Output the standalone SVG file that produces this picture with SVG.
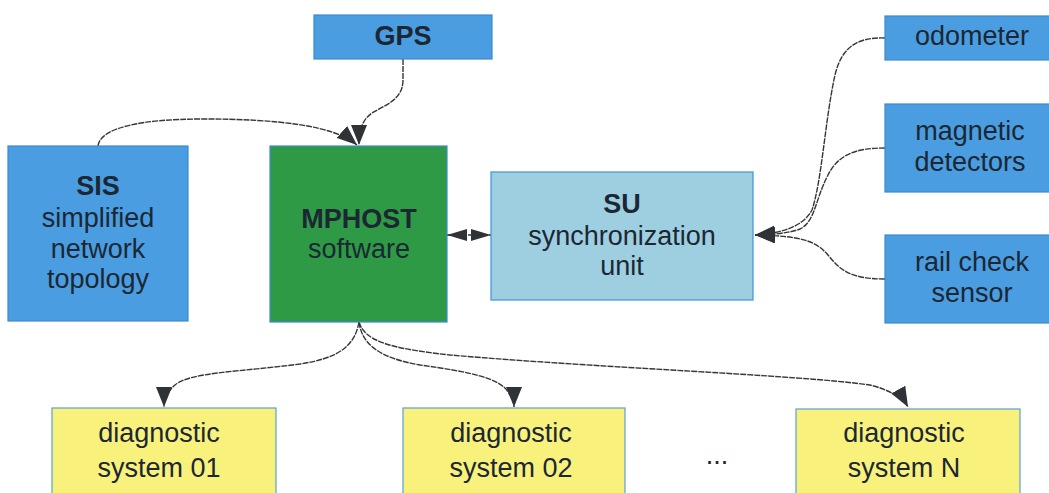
<svg xmlns="http://www.w3.org/2000/svg" width="1049" height="493" viewBox="0 0 1049 493">
  <style>
    .box { stroke-width: 1.2; }
    .blue { fill: #4a9de0; stroke: #3b8ad0; }
    .green { fill: #2e9a46; stroke: #3b8ad0; }
    .light { fill: #9dcfe1; stroke: #3f92d6; }
    .yellow { fill: #f8f27c; stroke: #5a9fd8; }
    text { font-family: "Liberation Sans", Arial, sans-serif; font-size: 27px; fill: #1c2733; text-anchor: middle; }
    .b { font-weight: bold; }
    .conn path, .conn line { fill: none; stroke: #33363a; stroke-width: 1.4; stroke-dasharray: 6 1; }
  </style>
  <defs>
    <marker id="arrow" viewBox="0 0 20 16" refX="20" refY="8" markerWidth="20" markerHeight="16" markerUnits="userSpaceOnUse" orient="auto-start-reverse">
      <path d="M0,0 L20,8 L0,16 Z" fill="#2f3236"/>
    </marker>
    <marker id="arrowS" viewBox="0 0 20 12" refX="20" refY="6" markerWidth="20" markerHeight="12" markerUnits="userSpaceOnUse" orient="auto-start-reverse">
      <path d="M0,0 L20,6 L0,12 Z" fill="#2f3236"/>
    </marker>
  </defs>

  <rect width="1049" height="493" fill="#ffffff"/>

  <!-- connectors -->
  <g id="connectors" class="conn">
    <path d="M98,146 C100,128 140,119 203,119 C280,119 335,126 357,145" marker-end="url(#arrow)"/>
    <path d="M403,59 L403,80 C403,100 385,105 372,113 C362,120 359,130 359,145" marker-end="url(#arrow)"/>
    <line x1="447" y1="235" x2="491" y2="235" marker-start="url(#arrowS)" marker-end="url(#arrowS)"/>
    <path d="M885,38 C860,37 842,45 835,75 C825,120 822,180 812,210 C802,228 780,233 755,235" marker-end="url(#arrow)"/>
    <path d="M885,148 C855,148 838,155 828,175 C815,200 815,222 800,229 C790,233 770,235 755,235" marker-end="url(#arrow)"/>
    <path d="M885,279 C850,279 840,270 828,255 C815,240 800,236 755,235" marker-end="url(#arrow)"/>
    <path d="M359,322 C355,345 340,358 300,364 C240,372 190,372 175,385 C167,392 164,398 164,407" marker-end="url(#arrow)"/>
    <path d="M359,322 C362,345 380,358 420,365 C470,372 500,378 508,392 C512,398 514,402 514,407" marker-end="url(#arrow)"/>
    <path d="M359,322 C365,340 385,348 450,355 C600,368 800,375 870,385 C890,390 903,398 908,407" marker-end="url(#arrow)"/>
  </g>

  <g id="gps">
    <rect class="box blue" x="314" y="15" width="178" height="44"/>
    <text class="b" x="403" y="45">GPS</text>
  </g>

  <g id="sis">
    <rect class="box blue" x="8" y="146" width="180" height="175"/>
    <text class="b" x="98" y="195">SIS</text>
    <text x="98" y="227">simplified</text>
    <text x="98" y="258">network</text>
    <text x="98" y="288">topology</text>
  </g>

  <g id="mphost">
    <rect class="box green" x="270" y="146" width="177" height="176"/>
    <text class="b" x="359" y="228">MPHOST</text>
    <text x="359" y="258">software</text>
  </g>

  <g id="su">
    <rect class="box light" x="491" y="172" width="262" height="128"/>
    <text class="b" x="622" y="213">SU</text>
    <text x="622" y="245">synchronization</text>
    <text x="622" y="275">unit</text>
  </g>

  <g id="odometer">
    <rect class="box blue" x="885" y="16" width="175" height="44"/>
    <text x="972" y="45">odometer</text>
  </g>

  <g id="magnetic">
    <rect class="box blue" x="885" y="104" width="175" height="88"/>
    <text x="970" y="140">magnetic</text>
    <text x="970" y="171">detectors</text>
  </g>

  <g id="railcheck">
    <rect class="box blue" x="885" y="235" width="175" height="88"/>
    <text x="972" y="271">rail check</text>
    <text x="972" y="302">sensor</text>
  </g>

  <g id="diag01">
    <rect class="box yellow" x="52" y="408" width="224" height="100"/>
    <text x="159" y="442">diagnostic</text>
    <text x="159" y="477">system 01</text>
  </g>

  <g id="diag02">
    <rect class="box yellow" x="403" y="408" width="222" height="100"/>
    <text x="511" y="442">diagnostic</text>
    <text x="511" y="477">system 02</text>
  </g>

  <g id="diagN">
    <rect class="box yellow" x="796" y="409" width="224" height="100"/>
    <text x="904" y="442">diagnostic</text>
    <text x="904" y="477">system N</text>
  </g>

  <text x="717" y="464">...</text>
</svg>
